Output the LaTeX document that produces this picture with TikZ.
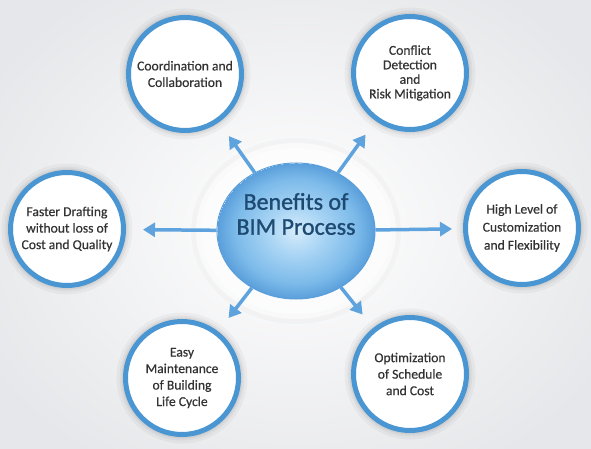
\documentclass[tikz,border=0pt]{standalone}
\usepackage{fontspec}
\setmainfont{Carlito}
\newfontfamily\outerfont[FakeBold=0.5]{Carlito}
\newfontfamily\hubfont[FakeBold=1.2]{Carlito}
\usetikzlibrary{arrows.meta,shapes.geometric}
\definecolor{ringblue}{HTML}{4A96D3}
\definecolor{arrowblue}{HTML}{5EA3DD}
\definecolor{txtgray}{HTML}{333333}
\definecolor{centertxt}{HTML}{1E4A72}
\definecolor{bgedge}{HTML}{E6E7EA}
\definecolor{ballA}{HTML}{D6ECFB}
\definecolor{ballB}{HTML}{A8D4F4}
\definecolor{ballC}{HTML}{7DBBEA}
\definecolor{ballD}{HTML}{5A9FDB}
\pgfdeclareradialshading{bimball}{\pgfpoint{0bp}{0bp}}{color(0bp)=(ballA); color(9bp)=(ballB); color(19bp)=(ballC); color(25bp)=(ballD)}
\tikzset{
  benefit/.style={circle, minimum size=113pt, inner sep=0pt, align=center,
    font=\outerfont\fontsize{13.6}{16.5}\selectfont, text=txtgray, fill=white,
    draw=ringblue, line width=5pt,
    preaction={draw=black, opacity=0.035, line width=18pt},
    preaction={draw=black, opacity=0.04, line width=12pt},
    preaction={draw=black, opacity=0.05, line width=8pt}},
  hub/.style={ellipse, minimum width=158pt, minimum height=136pt, inner sep=0pt,
    shading=bimball, draw=ballD, line width=1pt},
  spoke/.style={draw=arrowblue, line width=3.5pt,
    -{Triangle[length=12pt,width=14pt]}, shorten >=17pt}
}
\begin{document}
\begin{tikzpicture}[x=1pt,y=-1pt]
\useasboundingbox (0,0) rectangle (591,449);
\shade[inner color=white, outer color=bgedge] (-60,-60) rectangle (651,509);
% halo around the hub
\fill[white, opacity=0.6, preaction={draw=black, opacity=0.02, line width=10pt}] (296,231) ellipse [x radius=100, y radius=88];
% outer benefit circles
\node[benefit] (coord) at (185,74) {Coordination and\\Collaboration};
\node[benefit, font=\outerfont\fontsize{13.6}{14.5}\selectfont] (conf) at (410,73) {Conflict\\Detection\\and\\Risk Mitigation};
\node[benefit] (fast) at (67,229) {Faster Drafting\\without loss of\\Cost and Quality};
\node[benefit, font=\outerfont\fontsize{13.6}{18}\selectfont] (high) at (522,228) {High Level of\\Customization\\and Flexibility};
\node[benefit] (easy) at (182,378) {Easy\\Maintenance\\of Building\\Life Cycle};
\node[benefit] (opt) at (410,374) {Optimization\\of Schedule\\and Cost};
% hub
\node[hub] (hub) at (296,231) {};
\node[font=\hubfont\fontsize{24}{25}\selectfont, text=centertxt, align=center] (hubtxt) at (296,214) {Benefits of\\BIM Process};
% spokes
\draw[spoke] (hub) -- (coord);
\draw[spoke] (hub) -- (conf);
\draw[spoke] (hub) -- (fast);
\draw[spoke, shorten >=11pt] (hub) -- (high);
\draw[spoke] (hub) -- (easy);
\draw[spoke] (hub) -- (opt);
\end{tikzpicture}
\end{document}
